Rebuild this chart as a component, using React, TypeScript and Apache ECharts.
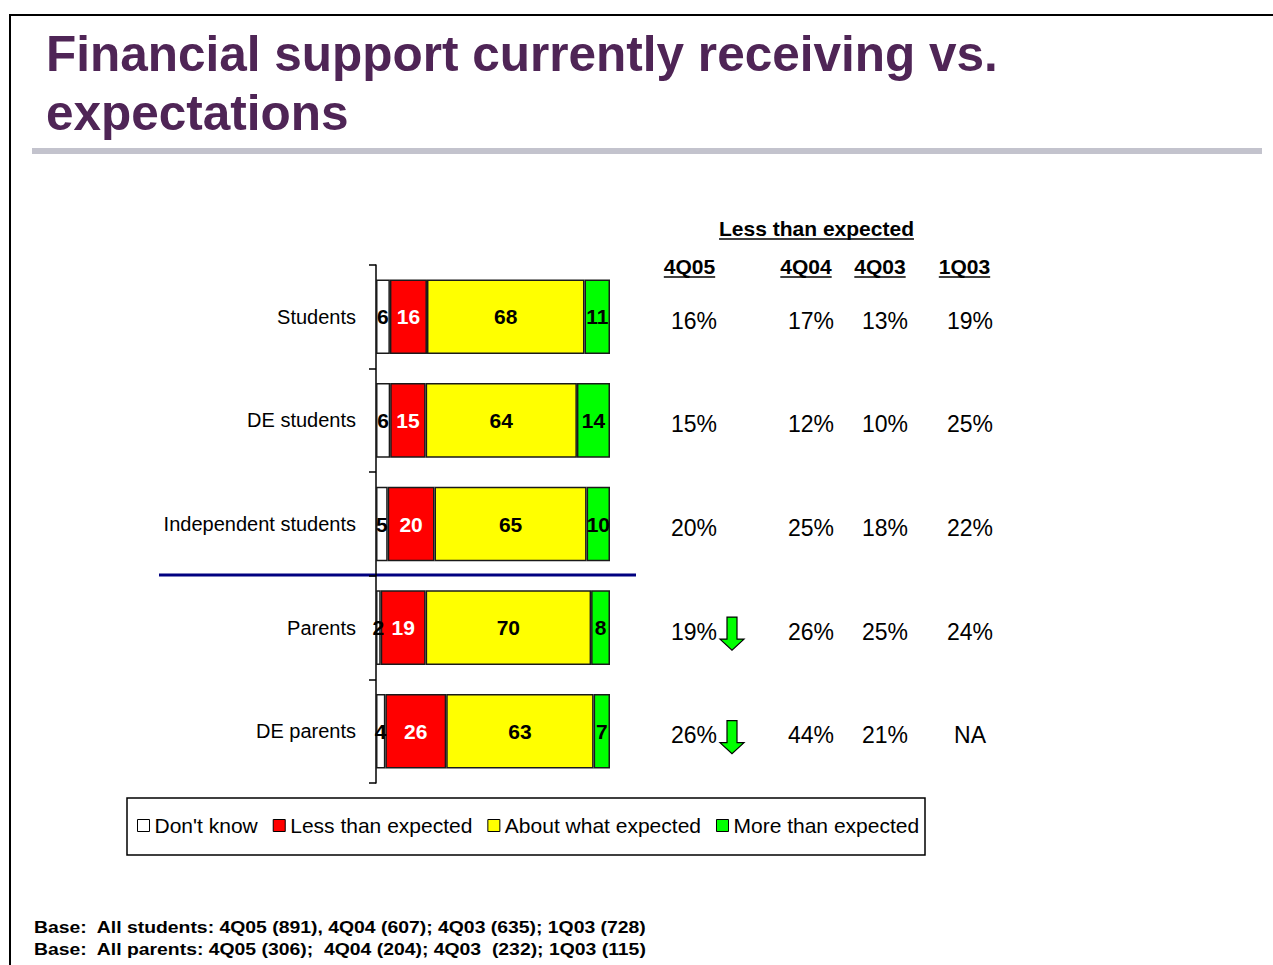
import React, { useEffect, useRef } from "react";
import * as echarts from "echarts";

const categories = ["Students", "DE students", "Independent students", "Parents", "DE parents"];
const dontKnow = [6, 6, 5, 2, 4];
const lessThan = [16, 15, 20, 19, 26];
const aboutWhat = [68, 64, 65, 70, 63];
const moreThan = [11, 14, 10, 8, 7];

const trendTitle = "Less than expected";
const trendPeriods = ["4Q05", "4Q04", "4Q03", "1Q03"];
const less4Q05 = ["16%", "15%", "20%", "19%", "26%"];
const less4Q04 = ["17%", "12%", "25%", "26%", "44%"];
const less4Q03 = ["13%", "10%", "18%", "25%", "21%"];
const less1Q03 = ["19%", "25%", "22%", "24%", "NA"];
const downArrowRows = [false, false, false, true, true];

const titleLines = ["Financial support currently receiving vs.", "expectations"];
const baseNotes = [
  "Base:  All students: 4Q05 (891), 4Q04 (607); 4Q03 (635); 1Q03 (728)",
  "Base:  All parents: 4Q05 (306);  4Q04 (204); 4Q03  (232); 1Q03 (115)",
];

const FONT = "'Liberation Sans', Arial, Helvetica, sans-serif";

function measure(text: string, font: string): number {
  const c = document.createElement("canvas").getContext("2d")!;
  c.font = font;
  return c.measureText(text).width;
}

export default function App() {
  const ref = useRef<HTMLDivElement>(null);
  useEffect(() => {
    const chart = echarts.init(ref.current!, null, { renderer: "svg" });
    const rowSums = categories.map((_, i) => dontKnow[i] + lessThan[i] + aboutWhat[i] + moreThan[i]);
    const mk = (arr: number[]) => arr.map((v, i) => ({ value: (v / rowSums[i]) * 100, raw: v }));
    const seriesDefs = [
      { name: "Don't know", data: dontKnow, color: "#FFFFFF", label: "#000000" },
      { name: "Less than expected", data: lessThan, color: "#FF0000", label: "#FFFFFF" },
      { name: "About what expected", data: aboutWhat, color: "#FFFF00", label: "#000000" },
      { name: "More than expected", data: moreThan, color: "#00FF00", label: "#000000" },
    ];
    chart.setOption({
      animation: false,
      textStyle: { fontFamily: FONT },
      grid: { left: 376, top: 265, width: 234, height: 518, containLabel: false },
      xAxis: { type: "value", min: 0, max: 100, show: false },
      yAxis: {
        type: "category",
        inverse: true,
        data: categories,
        axisLine: { show: true, lineStyle: { color: "#000", width: 1.5 } },
        axisTick: { show: true, length: 7, lineStyle: { color: "#000", width: 1.5 } },
        axisLabel: { margin: 20, fontSize: 20, color: "#000", fontFamily: FONT },
      },
      legend: {
        left: 137,
        top: 815,
        padding: 0,
        itemGap: 15,
        itemWidth: 12,
        itemHeight: 12,
        icon: "rect",
        itemStyle: { borderColor: "#000", borderWidth: 1 },
        textStyle: { fontSize: 21, color: "#000", fontFamily: FONT },
        data: seriesDefs.map((s) => s.name),
      },
      series: seriesDefs.map((s) => ({
        type: "bar",
        name: s.name,
        stack: "total",
        barCategoryGap: "28%",
        data: mk(s.data),
        itemStyle: { color: s.color, borderColor: "#1a1a1a", borderWidth: 1.5 },
        label: {
          show: true,
          position: "inside",
          fontSize: 21,
          fontWeight: "bold",
          color: s.label,
          fontFamily: FONT,
          formatter: (p: any) => String(p.data.raw),
        },
      })),
    });

    const rowY = categories.map((c) => chart.convertToPixel({ yAxisIndex: 0 }, c) as number);
    const g: any[] = [];
    // slide frame
    g.push({ type: "line", shape: { x1: 9, y1: 15, x2: 1273, y2: 15 }, style: { stroke: "#000", lineWidth: 2 } });
    g.push({ type: "line", shape: { x1: 10, y1: 15, x2: 10, y2: 965 }, style: { stroke: "#000", lineWidth: 2 } });
    // title
    titleLines.forEach((t, i) =>
      g.push({
        type: "text",
        x: 46,
        y: 53 + i * 59,
        style: { text: t, font: `bold 49.5px ${FONT}`, fill: "#4F2556", verticalAlign: "middle", align: "left" },
      })
    );
    g.push({ type: "rect", shape: { x: 32, y: 148, width: 1230, height: 6 }, style: { fill: "#C3C3CD" } });
    // separator line
    g.push({ type: "line", shape: { x1: 159, y1: 575, x2: 636, y2: 575 }, style: { stroke: "#000080", lineWidth: 3 } });
    // legend box
    g.push({ type: "rect", shape: { x: 127, y: 798, width: 798, height: 57 }, style: { fill: "none", stroke: "#000", lineWidth: 1.5 } });
    // trend table
    const hFont = `bold 21px ${FONT}`;
    const addUnderlined = (text: string, cx: number, cy: number) => {
      const w = measure(text, hFont);
      g.push({ type: "text", x: cx, y: cy, style: { text, font: hFont, fill: "#000", align: "center", verticalAlign: "middle" } });
      g.push({ type: "line", shape: { x1: cx - w / 2, y1: cy + 11, x2: cx + w / 2, y2: cy + 11 }, style: { stroke: "#000", lineWidth: 1.5 } });
    };
    addUnderlined(trendTitle, 816.5, 228);
    const headerX = [689.5, 806, 880, 964.5];
    trendPeriods.forEach((p, i) => addUnderlined(p, headerX[i], 266));
    const valueX = [694, 811, 885, 970];
    const cols = [less4Q05, less4Q04, less4Q03, less1Q03];
    const vFont = `23px ${FONT}`;
    cols.forEach((col, ci) =>
      col.forEach((v, ri) =>
        g.push({
          type: "text",
          x: valueX[ci],
          y: rowY[ri] + 4,
          style: { text: v, font: vFont, fill: "#000", align: "center", verticalAlign: "middle" },
        })
      )
    );
    downArrowRows.forEach((on, ri) => {
      if (!on) return;
      const t = rowY[ri] - 10.5;
      g.push({
        type: "polygon",
        shape: {
          points: [
            [727, t], [737, t], [737, t + 22], [744, t + 22], [732, t + 33], [720, t + 22], [727, t + 22],
          ],
        },
        style: { fill: "#00FF00", stroke: "#000", lineWidth: 1.2 },
      });
    });
    // base notes
    baseNotes.forEach((n, i) =>
      g.push({
        type: "text",
        x: 34,
        y: 927 + i * 22,
        scaleX: 1.14,
        style: { text: n, font: `bold 17px ${FONT}`, fill: "#000", align: "left", verticalAlign: "middle" },
      })
    );
    chart.setOption({ graphic: g });
    return () => chart.dispose();
  }, []);
  return <div ref={ref} style={{ position: "fixed", left: 0, top: 0, width: 1273, height: 965, background: "#fff" }} />;
}
